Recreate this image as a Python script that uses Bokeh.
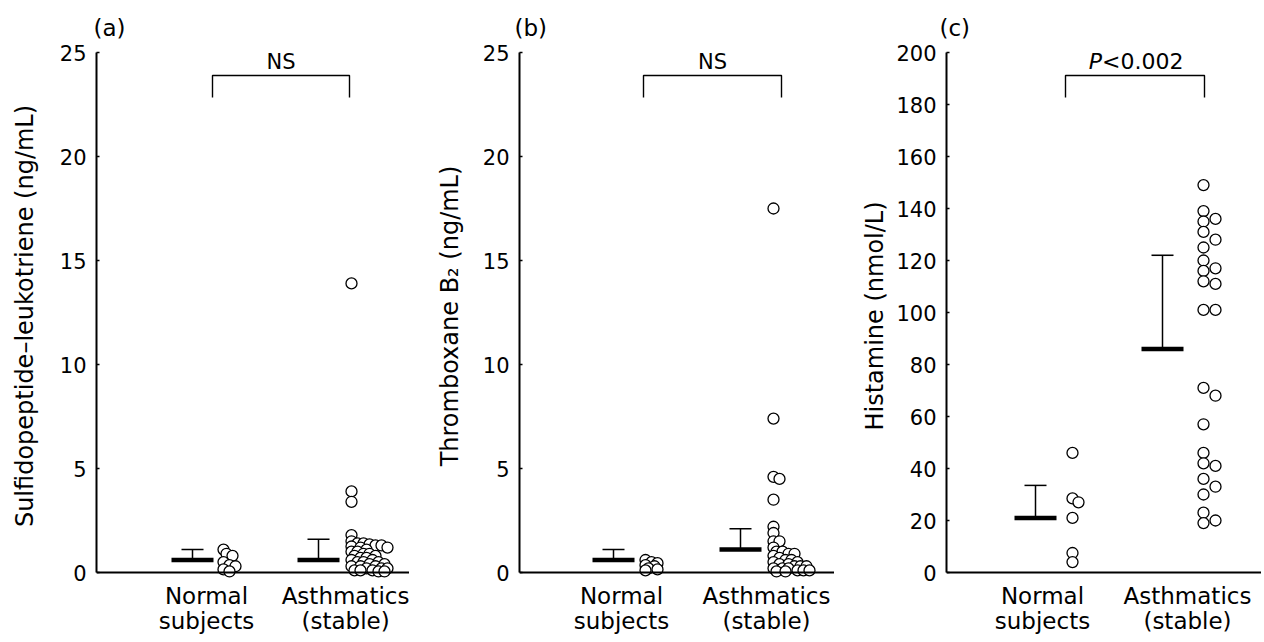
import numpy as np
from bokeh.plotting import figure
from bokeh.layouts import row
from bokeh.models import Range1d, FixedTicker, Label, Span
from bokeh.embed import file_html
from bokeh.resources import INLINE

FONT = "DejaVu Sans"

# ---------------- data ----------------
groups = ["Normal\nsubjects", "Asthmatics\n(stable)"]

a_normal = [1.1, 0.9, 0.8, 0.5, 0.35, 0.3, 0.15, 0.05]
a_asthma = [13.9, 3.9, 3.4, 1.8, 1.5, 1.4, 1.4, 1.35, 1.3, 1.3, 1.25, 1.2, 1.2,
            1.1, 1.0, 1.0, 0.9, 0.9, 0.8, 0.8, 0.7, 0.7, 0.6, 0.6, 0.5, 0.5,
            0.5, 0.4, 0.4, 0.3, 0.3, 0.3, 0.2, 0.2, 0.2, 0.1, 0.1, 0.1, 0.05, 0.05]
a_center = [0.6, 0.6]
a_upper = [1.1, 1.6]

b_normal = [0.6, 0.5, 0.45, 0.35, 0.3, 0.2, 0.15, 0.1]
b_asthma = [17.5, 7.4, 4.6, 4.5, 3.5, 2.2, 1.9, 1.5, 1.5, 1.2, 1.0, 1.0, 0.9,
            0.9, 0.8, 0.7, 0.6, 0.6, 0.5, 0.5, 0.4, 0.4, 0.3, 0.3, 0.3, 0.2,
            0.2, 0.2, 0.1, 0.1, 0.1, 0.05, 0.05]
b_center = [0.6, 1.1]
b_upper = [1.1, 2.1]

c_normal = [46, 28.5, 27, 21, 7.5, 4]
c_asthma = [149, 139, 136, 135, 131, 128, 125, 120, 117, 116, 112, 111, 101, 101,
            71, 68, 57, 46, 42, 41, 36, 33, 30, 23, 20, 19]
c_center = [21, 86]
c_upper = [33.5, 122]

a_ticks = [0, 5, 10, 15, 20, 25]
c_ticks = [0, 20, 40, 60, 80, 100, 120, 140, 160, 180, 200]

a_ylabel = "Sulfidopeptide\u2013leukotriene (ng/mL)"
b_ylabel = "Thromboxane B\u2082 (ng/mL)"
c_ylabel = "Histamine (nmol/L)"

# ---------------- layout / style ----------------
PLOT_H = 520      # pixels from 0 to the top tick
PAD = 7           # pixels below zero inside the frame
TOP = 52
BOTTOM = 58
INK = "black"


def swarm(vals, ppu_y, dmin, step, width, one_sided):
    """Deterministic bounded beeswarm; returns pixel offsets."""
    vals = np.asarray(vals, dtype=float)
    order = np.argsort(-vals, kind="stable")
    placed = []
    offs = np.zeros(len(vals))
    n = int(width // step)
    if one_sided:
        ks = list(range(0, n + 1))
    else:
        ks = [0]
        for k in range(1, n // 2 + 1):
            ks += [k, -k]
    for i in order:
        y = vals[i] * ppu_y
        best, best_d, best_x = None, -1, 0
        for k in ks:
            x = k * step
            d = min([np.hypot(x - px, y - py) for px, py in placed] + [1e9])
            if d >= dmin:
                best = x
                break
            if d > best_d:
                best_d, best_x = d, x
        if best is None:
            best = best_x
        placed.append((best, y))
        offs[i] = best
    return offs


def make_panel(letter, normal, asthma, center, upper, ticks, ylabel, lay):
    fl, fr = lay["frame"]
    c1, c2 = lay["cats"]
    sp = float(c2 - c1)
    fw = fr - fl
    xs = 1 - (c1 - fl) / sp
    xe = 1 + (fr - c1) / sp
    ymax = ticks[-1]
    ppu_y = PLOT_H / ymax
    ymin = -PAD / ppu_y

    p = figure(frame_width=fw, frame_height=PLOT_H + PAD,
               x_range=Range1d(xs, xe), y_range=Range1d(ymin, ymax),
               output_backend="svg", toolbar_location=None,
               min_border_left=lay["ml"], min_border_right=0,
               min_border_top=TOP, min_border_bottom=BOTTOM)
    p.grid.visible = False
    p.outline_line_color = None
    p.background_fill_color = "white"
    p.border_fill_color = "white"

    p.title.text = "(%s)" % letter
    p.title.align = "left"
    p.title.offset = lay["toff"]
    p.title.text_font = FONT
    p.title.text_font_size = "23px"
    p.title.text_font_style = "normal"
    p.title.text_color = INK
    p.title.standoff = 23

    xa = p.xaxis[0]
    xa.ticker = FixedTicker(ticks=[1, 2])
    xa.major_label_overrides = {1: groups[0], 2: groups[1]}
    xa.major_tick_line_color = None
    xa.minor_tick_line_color = None
    xa.axis_line_color = None
    xa.major_label_text_font = FONT
    xa.major_label_text_font_size = "23px"
    xa.major_label_text_color = INK
    xa.major_label_text_line_height = 0.98
    xa.major_label_standoff = -3

    ya = p.yaxis[0]
    ya.ticker = FixedTicker(ticks=ticks)
    ya.bounds = (0, ymax)
    ya.minor_tick_line_color = None
    ya.major_tick_in = 3
    ya.major_tick_out = 0
    ya.major_tick_line_width = 1.5
    ya.major_tick_line_color = INK
    ya.axis_line_width = 2
    ya.axis_line_color = INK
    ya.major_label_text_font = FONT
    ya.major_label_text_font_size = "21px"
    ya.major_label_text_color = INK
    ya.major_label_standoff = 10
    ya.axis_label = ylabel
    ya.axis_label_text_font = FONT
    ya.axis_label_text_font_size = "24px"
    ya.axis_label_text_font_style = "normal"
    ya.axis_label_text_color = INK
    ya.axis_label_standoff = lay["als"]

    # x-axis line at zero
    p.add_layout(Span(location=0, dimension="width", line_color=INK,
                      line_width=2))

    px = lambda v: v / sp  # pixel offset -> data units

    for gi, (vals, gpos) in enumerate([(normal, 1), (asthma, 2)]):
        mx = gpos + px(lay["mean_off"][gi])
        p.segment(x0=[mx - px(21)], x1=[mx + px(21)], y0=[center[gi]], y1=[center[gi]],
                  line_width=4.5, line_color=INK)
        p.segment(x0=[mx], x1=[mx], y0=[center[gi]], y1=[upper[gi]],
                  line_width=1.5, line_color=INK)
        p.segment(x0=[mx - px(11)], x1=[mx + px(11)], y0=[upper[gi]], y1=[upper[gi]],
                  line_width=1.5, line_color=INK)
        offs = swarm(vals, ppu_y, lay["dmin"][gi], lay["step"][gi],
                     lay["width"][gi], lay["one"][gi])
        xpts = gpos + px(lay["pt_off"][gi]) + offs / sp
        p.scatter(x=list(xpts), y=list(vals), size=11, marker="circle",
                  fill_color="white", line_color=INK, line_width=1.3)

    # significance bracket
    bl = 1 + px(lay["br_off"][0])
    br = 2 + px(lay["br_off"][1])
    ytop = ymax - 23 / ppu_y
    ybot = ymax - 45 / ppu_y
    p.line(x=[bl, bl, br, br], y=[ybot, ytop, ytop, ybot], line_width=1.4,
           line_color=INK)
    ymid_txt = ymax - 9 / ppu_y
    xmid = (bl + br) / 2
    if lay["sig"] == "NS":
        p.add_layout(Label(x=xmid, y=ymid_txt, text="NS", text_align="center",
                           text_baseline="middle", text_font=FONT,
                           text_font_size="21px", text_color=INK))
    else:
        split = xmid - px(33)
        p.add_layout(Label(x=split, y=ymid_txt, text="P", text_align="right",
                           text_baseline="middle", text_font=FONT,
                           text_font_style="italic",
                           text_font_size="22px", text_color=INK))
        p.add_layout(Label(x=split, y=ymid_txt, text="<0.002", text_align="left",
                           text_baseline="middle", text_font=FONT,
                           text_font_size="22px", text_color=INK))
    return p


lay_a = dict(frame=(97, 410), cats=(207, 347), ml=96, als=18, toff=-3,
             mean_off=(-14, -28), pt_off=(17, 5), br_off=(6, 3),
             dmin=(5, 4.5), step=(3, 3), width=(12, 36), one=(True, True), sig="NS")
lay_b = dict(frame=(520, 835), cats=(622, 767), ml=110, als=16, toff=-5,
             mean_off=(-8, -26), pt_off=(24, 7), br_off=(22, 15),
             dmin=(5, 4.5), step=(3, 3), width=(12, 36), one=(True, True), sig="NS")
lay_c = dict(frame=(947, 1262), cats=(1043, 1188), ml=112, als=4, toff=-7,
             mean_off=(-7, -25), pt_off=(30, 16), br_off=(23, 17),
             dmin=(5, 10), step=(3, 6), width=(6, 24), one=(True, False), sig="P")

pa = make_panel("a", a_normal, a_asthma, a_center, a_upper, a_ticks, a_ylabel, lay_a)
pb = make_panel("b", b_normal, b_asthma, b_center, b_upper, a_ticks, b_ylabel, lay_b)
pc = make_panel("c", c_normal, c_asthma, c_center, c_upper, c_ticks, c_ylabel, lay_c)

layout = row(pa, pb, pc, spacing=0)
open("out.html", "w").write(file_html(layout, INLINE))
